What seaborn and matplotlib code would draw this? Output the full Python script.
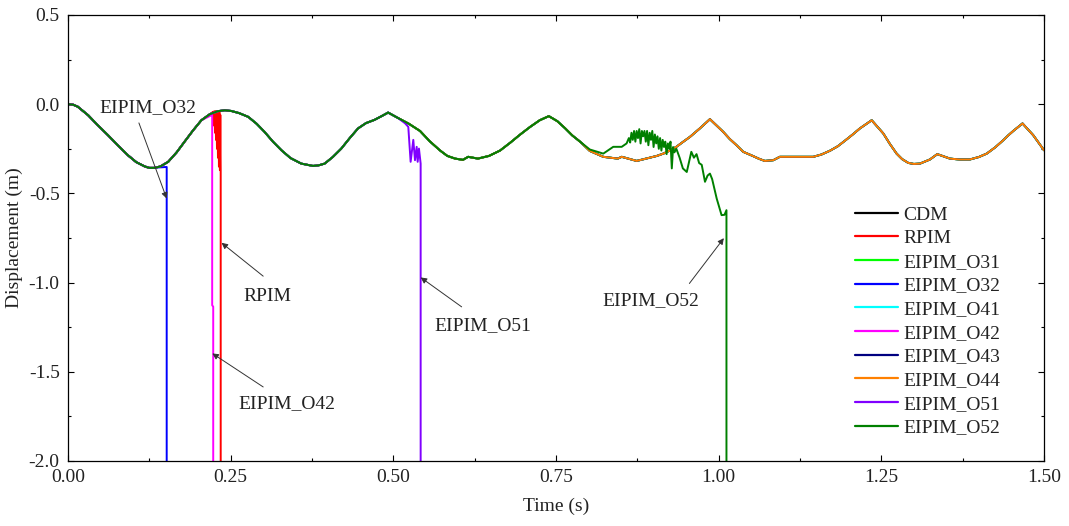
import matplotlib
matplotlib.use("Agg")
import matplotlib.pyplot as plt
import numpy as np
import pandas as pd
import seaborn as sns

# common (stable) displacement history
base_time = [0.000, 0.008, 0.015, 0.031, 0.045, 0.0615, 0.077, 0.092, 0.105, 0.118,
             0.125, 0.133, 0.142, 0.154, 0.167, 0.179, 0.192, 0.205, 0.218, 0.2305,
             0.241, 0.251, 0.263, 0.277, 0.290, 0.302, 0.315, 0.328, 0.342, 0.3585,
             0.3765, 0.385, 0.3945, 0.407, 0.420, 0.433, 0.4457, 0.458, 0.471, 0.483,
             0.492, 0.507, 0.524, 0.541, 0.556, 0.572, 0.583, 0.595, 0.607, 0.615,
             0.630, 0.647, 0.664, 0.680, 0.695, 0.710, 0.725, 0.739, 0.752, 0.764,
             0.775, 0.787, 0.802, 0.8227, 0.845, 0.851, 0.874, 0.894, 0.905, 0.915,
             0.925, 0.935, 0.945, 0.956, 0.971, 0.9866, 1.007, 1.017, 1.0275, 1.0378,
             1.053, 1.062, 1.071, 1.084, 1.094, 1.1455, 1.158, 1.171, 1.183, 1.194,
             1.206, 1.217, 1.2352, 1.253, 1.263, 1.2735, 1.282, 1.2914, 1.300, 1.3094,
             1.3247, 1.336, 1.3555, 1.370, 1.386, 1.400, 1.412, 1.425, 1.4374, 1.445,
             1.4528, 1.467, 1.4835, 1.500]
base_disp = [0.000, -0.003, -0.014, -0.062, -0.115, -0.174, -0.232, -0.286, -0.325, -0.349,
             -0.357, -0.357, -0.349, -0.323, -0.270, -0.211, -0.148, -0.090, -0.056, -0.039,
             -0.034, -0.038, -0.050, -0.071, -0.110, -0.155, -0.210, -0.258, -0.302, -0.333,
             -0.346, -0.343, -0.333, -0.296, -0.249, -0.190, -0.136, -0.106, -0.088, -0.065,
             -0.047, -0.077, -0.110, -0.150, -0.208, -0.260, -0.290, -0.305, -0.312, -0.295,
             -0.305, -0.290, -0.260, -0.215, -0.170, -0.128, -0.090, -0.067, -0.095, -0.135,
             -0.175, -0.210, -0.262, -0.295, -0.305, -0.295, -0.318, -0.300, -0.290, -0.277,
             -0.260, -0.239, -0.212, -0.183, -0.136, -0.084, -0.155, -0.195, -0.230, -0.267,
             -0.291, -0.306, -0.318, -0.314, -0.295, -0.295, -0.282, -0.261, -0.236, -0.205,
             -0.170, -0.136, -0.090, -0.164, -0.222, -0.277, -0.308, -0.329, -0.335, -0.333,
             -0.310, -0.280, -0.305, -0.310, -0.310, -0.296, -0.277, -0.242, -0.202, -0.175,
             -0.150, -0.108, -0.174, -0.258]

methods = ["CDM", "RPIM", "EIPIM_O31", "EIPIM_O32", "EIPIM_O41",
           "EIPIM_O42", "EIPIM_O43", "EIPIM_O44", "EIPIM_O51", "EIPIM_O52"]
colors = ["#000000", "#ff0000", "#00ff00", "#0000ff", "#00ffff",
          "#ff00ff", "#000080", "#ff8000", "#8000ff", "#008000"]

# diverging tails: (time where the series leaves the base curve, tail times, tail values)
rpim_cut = 0.221
rpim_t = [0.2222, 0.2230, 0.2237, 0.2245, 0.2252, 0.2260, 0.2267, 0.2275, 0.2282,
          0.2290, 0.2297, 0.2305, 0.2312, 0.2320, 0.2327, 0.2335, 0.2341, 0.2347, 0.2347]
rpim_d = [-0.045, -0.080, -0.042, -0.120, -0.040, -0.160, -0.040, -0.200, -0.040,
          -0.250, -0.040, -0.300, -0.042, -0.350, -0.045, -0.370, -0.060, -0.370, -2.5]

o32_cut = 0.134
o32_t = [0.137, 0.1517, 0.1517]
o32_d = [-0.355, -0.352, -2.5]

o42_cut = 0.215
o42_t = [0.2216, 0.2216, 0.2232, 0.2232]
o42_d = [-0.060, -1.127, -1.135, -2.5]

o51_cut = 0.508
o51_t = [0.518, 0.523, 0.5266, 0.5307, 0.5333, 0.5359, 0.5374, 0.5394, 0.542, 0.542]
o51_d = [-0.107, -0.127, -0.323, -0.200, -0.314, -0.239, -0.323, -0.249, -0.333, -2.5]

o52_cut = 0.788
o52_t = [0.802, 0.8227, 0.838, 0.851, 0.8585, 0.862, 0.864, 0.866, 0.868, 0.870,
         0.872, 0.874, 0.876, 0.878, 0.880, 0.882, 0.884, 0.886, 0.888, 0.890,
         0.892, 0.894, 0.896, 0.898, 0.900, 0.902, 0.904, 0.906, 0.908, 0.910,
         0.912, 0.914, 0.916, 0.918, 0.920, 0.922, 0.924, 0.926, 0.928, 0.930,
         0.932, 0.935, 0.940, 0.945, 0.951, 0.958, 0.962, 0.966, 0.970, 0.974,
         0.979, 0.983, 0.9866, 0.990, 0.997, 1.0045, 1.009, 1.012, 1.012]
o52_d = [-0.254, -0.277, -0.239, -0.239, -0.220, -0.190, -0.215, -0.160, -0.200, -0.150,
         -0.210, -0.150, -0.190, -0.140, -0.220, -0.150, -0.180, -0.150, -0.210, -0.150,
         -0.230, -0.160, -0.200, -0.150, -0.240, -0.170, -0.220, -0.180, -0.250, -0.190,
         -0.260, -0.200, -0.240, -0.210, -0.280, -0.220, -0.250, -0.210, -0.360, -0.240,
         -0.270, -0.250, -0.300, -0.360, -0.380, -0.267, -0.300, -0.280, -0.330, -0.340,
         -0.435, -0.400, -0.389, -0.420, -0.529, -0.622, -0.620, -0.594, -2.5]

tails = {
    "RPIM": (rpim_cut, rpim_t, rpim_d),
    "EIPIM_O32": (o32_cut, o32_t, o32_d),
    "EIPIM_O42": (o42_cut, o42_t, o42_d),
    "EIPIM_O51": (o51_cut, o51_t, o51_d),
    "EIPIM_O52": (o52_cut, o52_t, o52_d),
}

rows = []
for m in methods:
    if m in tails:
        cut, tt, dd = tails[m]
        t = [x for x in base_time if x < cut] + tt
        d = [y for x, y in zip(base_time, base_disp) if x < cut] + dd
    else:
        t, d = base_time, base_disp
    for a, b in zip(t, d):
        rows.append({"time": a, "disp": b, "method": m})
df = pd.DataFrame(rows)

sns.set_theme(style="ticks")
plt.rcParams["font.family"] = ["Liberation Serif", "DejaVu Serif"]

fig, ax = plt.subplots(figsize=(10.69, 5.26), dpi=100)
fig.subplots_adjust(left=0.0636, right=0.9766, bottom=0.1236, top=0.9715)

sns.lineplot(data=df, x="time", y="disp", hue="method", hue_order=methods,
             palette=dict(zip(methods, colors)), estimator=None, sort=False,
             linewidth=1.4, ax=ax, legend=False)

ax.set_xlim(0, 1.5)
ax.set_ylim(-2.0, 0.5)
ax.set_xticks(np.arange(0, 1.51, 0.25))
ax.set_xticks(np.arange(0, 1.51, 0.125), minor=True)
ax.set_yticks(np.arange(-2.0, 0.51, 0.5))
ax.set_yticks(np.arange(-2.0, 0.51, 0.25), minor=True)
ax.xaxis.set_major_formatter(matplotlib.ticker.FormatStrFormatter("%.2f"))
ax.yaxis.set_major_formatter(matplotlib.ticker.FormatStrFormatter("%.1f"))
ax.tick_params(which="both", direction="in", top=True, right=True, labelsize=14,
               width=0.8, color="black", labelcolor="#222222")
ax.tick_params(which="major", length=4, pad=6)
ax.tick_params(which="minor", length=2.5)
for s in ax.spines.values():
    s.set_linewidth(0.9)
    s.set_color("black")
ax.set_xlabel("Time (s)", fontsize=14, color="#222222", labelpad=8)
ax.set_ylabel("Displacement (m)", fontsize=14, color="#222222", labelpad=4)

# annotations: text position, arrow tail, arrow tip
notes = [
    ("EIPIM_O32", (0.123, -0.02), (0.109, -0.105), (0.1517, -0.529)),
    ("RPIM", (0.307, -1.076), (0.300, -0.964), (0.236, -0.777)),
    ("EIPIM_O42", (0.337, -1.68), (0.300, -1.585), (0.2218, -1.397)),
    ("EIPIM_O51", (0.638, -1.239), (0.605, -1.136), (0.542, -0.971)),
    ("EIPIM_O52", (0.8955, -1.099), (0.955, -1.005), (1.008, -0.751)),
]
for label, tp, tail, tip in notes:
    ax.text(tp[0], tp[1], label, ha="center", va="center", fontsize=14, color="#222222")
    ax.annotate("", xy=tip, xytext=tail,
                arrowprops=dict(arrowstyle="-|>", color="#333333", lw=0.7,
                                mutation_scale=9, shrinkA=0, shrinkB=0))

handles = [plt.Line2D([], [], color=c, lw=1.6) for c in colors]
ax.legend(handles, methods, loc="upper left", frameon=False, fontsize=14,
          bbox_to_anchor=(855 / 1069, 1 - 206 / 526), bbox_transform=fig.transFigure,
          borderpad=0, borderaxespad=0, handlelength=2.2, handletextpad=0.3,
          labelspacing=0.31, labelcolor="#222222")

fig.savefig("out.png", dpi=100)
